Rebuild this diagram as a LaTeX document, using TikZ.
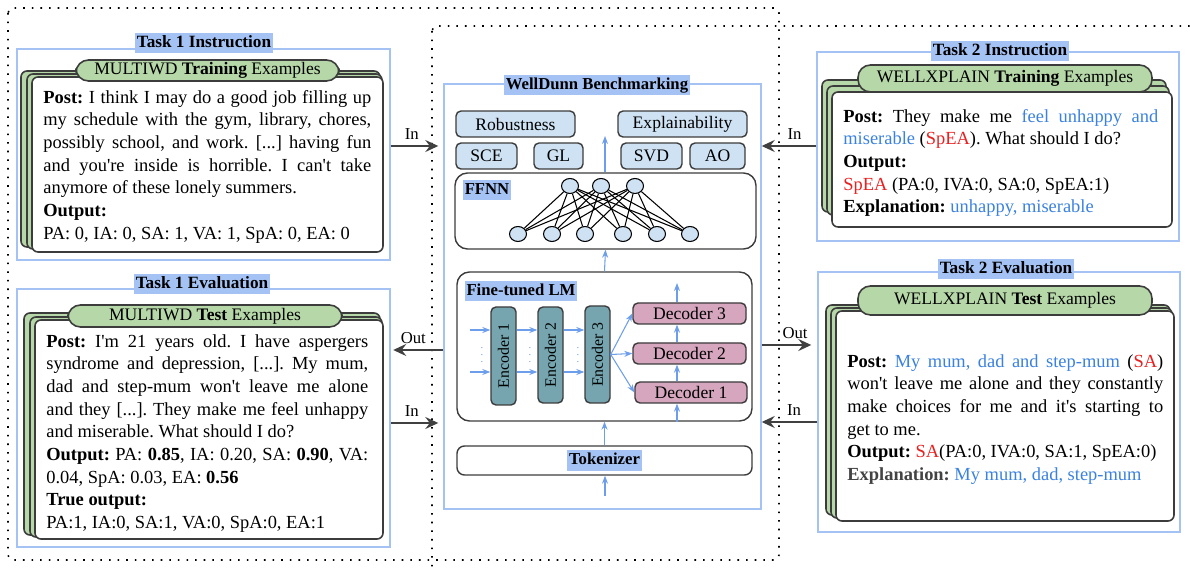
\documentclass[tikz,border=0pt]{standalone}
\usepackage{fontspec}
\setmainfont{Liberation Serif}
\usepackage{tikz}
\usetikzlibrary {arrows.meta}
\usetikzlibrary {fit}
\usetikzlibrary {shapes.geometric}

\definecolor{frameblue}{HTML}{A4C2F4}
\definecolor{hlblue}{HTML}{A4C2F4}
\definecolor{cardgreen}{HTML}{B6D7A8}
\definecolor{cardgray}{HTML}{3C3C3C}
\definecolor{boxblue}{HTML}{CFE2F3}
\definecolor{encteal}{HTML}{76A5AF}
\definecolor{decpink}{HTML}{D5A6BD}
\definecolor{arrowblue}{HTML}{6D9EEB}
\definecolor{iogray}{HTML}{404040}
\definecolor{txtblue}{HTML}{3B82E0}
\definecolor{txtred}{HTML}{E82020}
\definecolor{expgray}{HTML}{434343}

\newcommand\apo{\textquotesingle}
\frenchspacing

\tikzset{
  outline/.style={draw=black, line width=0.9pt, dash pattern=on 0.9pt off 4pt, rounded corners=1mm},
  frame/.style={draw=frameblue, line width=0.8pt, inner sep=0pt},
  hltitle/.style={fill=hlblue, font=\fontsize{9.8}{11}\selectfont\bfseries, inner xsep=1pt, inner ysep=1.2pt, text height=7pt, text depth=2pt},
  hllabel/.style={hltitle, font=\fontsize{9.5}{11}\selectfont\bfseries},
  card/.style={draw=cardgray, line width=0.9pt, fill=white, rounded corners=1.2mm, inner sep=0pt},
  cardbk/.style={draw=cardgray, line width=0.9pt, fill=cardgreen, rounded corners=1.2mm},
  pill/.style={draw=cardgray, line width=0.9pt, fill=cardgreen, rounded corners=2.5mm, inner sep=0pt},
  boxtext/.style={inner sep=0pt, font=\fontsize{10}{12}\selectfont},
  posttext/.style={anchor=north west, inner sep=0pt, align=justify, font=\fontsize{10.5}{12.9}\selectfont},
  metric/.style={draw=cardgray, fill=boxblue, rounded corners=1mm, line width=0.8pt, inner sep=0pt},
  layer/.style={draw=cardgray, fill=white, rounded corners=2.5mm, line width=0.8pt, inner sep=0pt},
  neuron/.style={ellipse, draw=black, fill=boxblue, minimum width=0.34cm, minimum height=0.3cm, inner sep=0pt, line width=0.6pt},
  encbox/.style={draw=cardgray, fill=encteal, rounded corners=1mm, line width=0.8pt, inner sep=0pt},
  decbox/.style={draw=cardgray, fill=decpink, rounded corners=1mm, line width=0.8pt, inner sep=0pt},
  flow/.style={draw=arrowblue, line width=0.6pt, -{Stealth[length=1.6mm,width=1.2mm]}},
  io/.style={draw=iogray, line width=1.1pt, -{Stealth[length=2.6mm,width=2.4mm,inset=0.9mm]}},
  iolabel/.style={font=\fontsize{9.5}{11}\selectfont, above},
}

\begin{document}
\begin{tikzpicture}[x=0.02cm,y=-0.02cm]
  \useasboundingbox (0,0) rectangle (1190,570);
  \clip (0,0) rectangle (1190,570);

  \draw[outline] (8,8) rectangle (779,560);%left block
  \draw[outline] (432,26) rectangle (1220,600);%right block

  % Task 1 Instruction
  \node[frame, fit={(17,49) (390,260)}] (t1ins) {};
  \foreach \xa/\ya/\xb/\yb in {21/71/380/247, 27/74/382/249}
    \draw[cardbk] (\xa,\ya) rectangle (\xb,\yb);
  \node[card, fit={(32,77) (383,252)}] (t1card) {};
  \node[pill, fit={(76,60) (339,81)}] (t1pill) {};
  \node[boxtext] at (t1pill.center) {MULTIWD \textbf{Training} Examples};
  \node[posttext, text width=6.56cm] (t1text) at (43,90) {\noindent\textbf{Post:} I think I may do a good job filling up\linebreak
    my schedule with the gym, library, chores,\linebreak
    possibly school, and work. [...] having fun\linebreak
    and you\apo re inside is horrible. I can\apo t take\linebreak
    anymore of these lonely summers.\newline
    \textbf{Output:}\newline
    PA: 0, IA: 0, SA: 1, VA: 1, SpA: 0, EA: 0};
  \node[hltitle] (t1institle) at (204,43) {Task 1 Instruction};

  % Task 1 Evaluation
  \node[frame, fit={(17,289) (390,547)}] (t1eval) {};
  \foreach \xa/\ya/\xb/\yb in {24/313/380/535, 30/317/382/537}
    \draw[cardbk] (\xa,\ya) rectangle (\xb,\yb);
  \node[card, fit={(35,320) (383,539)}] (t2card) {};
  \node[pill, fit={(68,305) (342,327)}] (t2pill) {};
  \node[boxtext] at (t2pill.center) {MULTIWD \textbf{Test} Examples};
  \node[posttext, text width=6.44cm] (t2text) at (46,334) {\noindent\textbf{Post:} I\apo m 21 years old. I have aspergers\linebreak
    syndrome and depression, [...]. My mum,\linebreak
    dad and step-mum won\apo t leave me alone\linebreak
    and they [...]. They make me feel unhappy\linebreak
    and miserable. What should I do?\newline
    \textbf{Output:} PA: \textbf{0.85}, IA: 0.20, SA: \textbf{0.90}, VA:\linebreak
    0.04, SpA: 0.03, EA: \textbf{0.56}\newline
    \textbf{True output:}\newline
    PA:1, IA:0, SA:1, VA:0, SpA:0, EA:1};
  \node[hltitle] (t1evaltitle) at (202,284) {Task 1 Evaluation};

  % Task 2 Instruction
  \node[frame, fit={(817,52) (1179,241)}] (t2ins) {};
  \foreach \xa/\ya/\xb/\yb in {822/80/1166/212, 827/86/1169/215}
    \draw[cardbk] (\xa,\ya) rectangle (\xb,\yb);
  \node[card, fit={(832,92) (1172,227)}] (t3card) {};
  \node[pill, fit={(858,65) (1152,92)}] (t3pill) {};
  \node[boxtext] at (t3pill.center) {WELLXPLAIN \textbf{Training} Examples};
  \node[posttext, text width=6.3cm] (t3text) at (843,109) {\noindent\textbf{Post:} They make me \textcolor{txtblue}{feel unhappy and}\linebreak
    \textcolor{txtblue}{miserable} (\textcolor{txtred}{SpEA}). What should I do?\newline
    \textbf{Output:}\newline
    \textcolor{txtred}{SpEA} (PA:0, IVA:0, SA:0, SpEA:1)\newline
    \textbf{Explanation:} \textcolor{txtblue}{unhappy, miserable}};
  \node[hltitle] (t2institle) at (1000,51) {Task 2 Instruction};

  % Task 2 Evaluation
  \node[frame, fit={(818,272) (1180,532)}] (t2eval) {};
  \foreach \xa/\ya/\xb/\yb in {826/305/1170/515, 831/308/1172/518}
    \draw[cardbk] (\xa,\ya) rectangle (\xb,\yb);
  \node[card, fit={(836,311) (1174,521)}] (t4card) {};
  \node[pill, fit={(858,286) (1152,315)}] (t4pill) {};
  \node[boxtext] at (t4pill.center) {WELLXPLAIN \textbf{Test} Examples};
  \node[posttext, text width=6.32cm] (t4text) at (847,354) {\noindent\textbf{Post:} \textcolor{txtblue}{My mum, dad and step-mum} (\textcolor{txtred}{SA})\linebreak
    won\apo t leave me alone and they constantly\linebreak
    make choices for me and it\apo s starting to\linebreak
    get to me.\newline
    \textbf{Output:} \textcolor{txtred}{SA}(PA:0, IVA:0, SA:1, SpEA:0)\newline
    \textcolor{expgray}{\textbf{Explanation:}} \textcolor{txtblue}{My mum, dad, step-mum}};
  \node[hltitle] (t2evaltitle) at (1006,269) {Task 2 Evaluation};

  % WellDunn Benchmarking
  \node[frame, fit={(444,84) (761,509)}] (bench) {};
  \node[hllabel] (benchtitle) at (597,85) {WellDunn Benchmarking};

  \node[metric, fit={(456,111) (575,137)}] (rob) {};
  \node[metric, fit={(618,111) (747,137)}] (expl) {};
  \node[metric, fit={(456,143) (517,169)}] (sce) {};
  \node[metric, fit={(534,143) (583,169)}] (gl) {};
  \node[metric, fit={(621,143) (682,169)}] (svd) {};
  \node[metric, fit={(690,143) (745,169)}] (ao) {};
  \foreach \b/\t in {rob/Robustness, expl/Explainability, sce/SCE, gl/GL, svd/SVD, ao/AO}
    \node[boxtext] at (\b.center) {\t};

  \node[layer, fit={(455,173) (756,249)}] (ffnn) {};
  \node[hllabel] (ffnnlabel) at (487,190) {FFNN};
  \foreach \n/\x in {1/570, 2/601, 3/635}
    \node[neuron] (top\n) at (\x,186) {};
  \foreach \n/\x in {1/518, 2/552, 3/585, 4/623, 5/657, 6/690}
    \node[neuron] (bot\n) at (\x,234) {};
  \foreach \i in {1,2,3}
    \foreach \j in {1,...,6}
      \draw[line width=0.6pt] (top\i) -- (bot\j);

  \node[layer, fit={(457,272) (752,421)}] (lm) {};
  \node[hllabel] (lmlabel) at (521,291) {Fine-tuned LM};
  \node[encbox, fit={(491,307) (516,405)}] (enc1) {};
  \node[encbox, fit={(538,307) (563,403)}] (enc2) {};
  \node[encbox, fit={(585,306) (610,403)}] (enc3) {};
  \foreach \n in {1,2,3}
    \node[rotate=90, inner sep=0pt, font=\fontsize{9}{10}\selectfont] at (enc\n.center) {Encoder \n};
  \node[decbox, fit={(633,303) (746,324)}] (dec3) {};
  \node[decbox, fit={(633,343) (746,364)}] (dec2) {};
  \node[decbox, fit={(635,382) (747,403)}] (dec1) {};
  \foreach \n in {1,2,3}
    \node[boxtext] at (dec\n.center) {Decoder \n};

  \node[layer, rounded corners=1.5mm, fit={(457,446) (752,475)}] (tok) {};
  \node[hllabel] (toklabel) at (tok.center) {Tokenizer};

  % blue flows
  \coordinate (inA) at (470,330);
  \coordinate (inB) at (470,372);
  \foreach \c in {inA,inB}{
    \draw[flow] (\c) -- (enc1.west |- \c);
    \draw[flow] (enc1.east |- \c) -- (enc2.west |- \c);
    \draw[flow] (enc2.east |- \c) -- (enc3.west |- \c);
  }
  \foreach \n/\x in {1/482, 2/530, 3/578}
    \node[text=arrowblue, inner sep=0pt, font=\fontsize{6}{7}\selectfont] (dots\n) at (\x,350) {$\vdots$};
  \foreach \d in {dec3,dec2,dec1}
    \draw[flow] (enc3.east) -- (\d.west);
  \coordinate (decx) at (677,283);
  \draw[flow] (lm.south -| decx) -- (dec1.south -| decx);
  \draw[flow] (dec1.north -| decx) -- (dec2.south -| decx);
  \draw[flow] (dec2.north -| decx) -- (dec3.south -| decx);
  \draw[flow] (dec3.north -| decx) -- (decx);
  \coordinate (src) at (605,496);
  \coordinate (res) at (605,136);
  \draw[flow] (src) -- (tok.south -| src);
  \draw[flow] (tok.north) -- (lm.south);
  \draw[flow] (lm.north) -- (ffnn.south);
  \draw[flow] (ffnn.north -| res) -- (res);

  % In / Out
  \draw[io, shorten >=0.1cm] (t1ins.east |- 0,146) -- (bench.west |- 0,146) node[iolabel, pos=0.4] {In};
  \draw[io, shorten >=0.05cm] (bench.west |- 0,350) -- (t1eval.east |- 0,350) node[iolabel, pos=0.57] {Out};
  \draw[io, shorten >=0.1cm] (t1eval.east |- 0,423) -- (bench.west |- 0,423) node[iolabel, pos=0.4] {In};
  \draw[io] (t2ins.west |- 0,146) -- (bench.east |- 0,146) node[iolabel, pos=0.4] {In};
  \draw[io, shorten >=0.12cm] (bench.east |- 0,345) -- (t2eval.west |- 0,345) node[iolabel, pos=0.6] {Out};
  \draw[io] (t2eval.west |- 0,422) -- (bench.east |- 0,422) node[iolabel, pos=0.42] {In};
\end{tikzpicture}
\end{document}
